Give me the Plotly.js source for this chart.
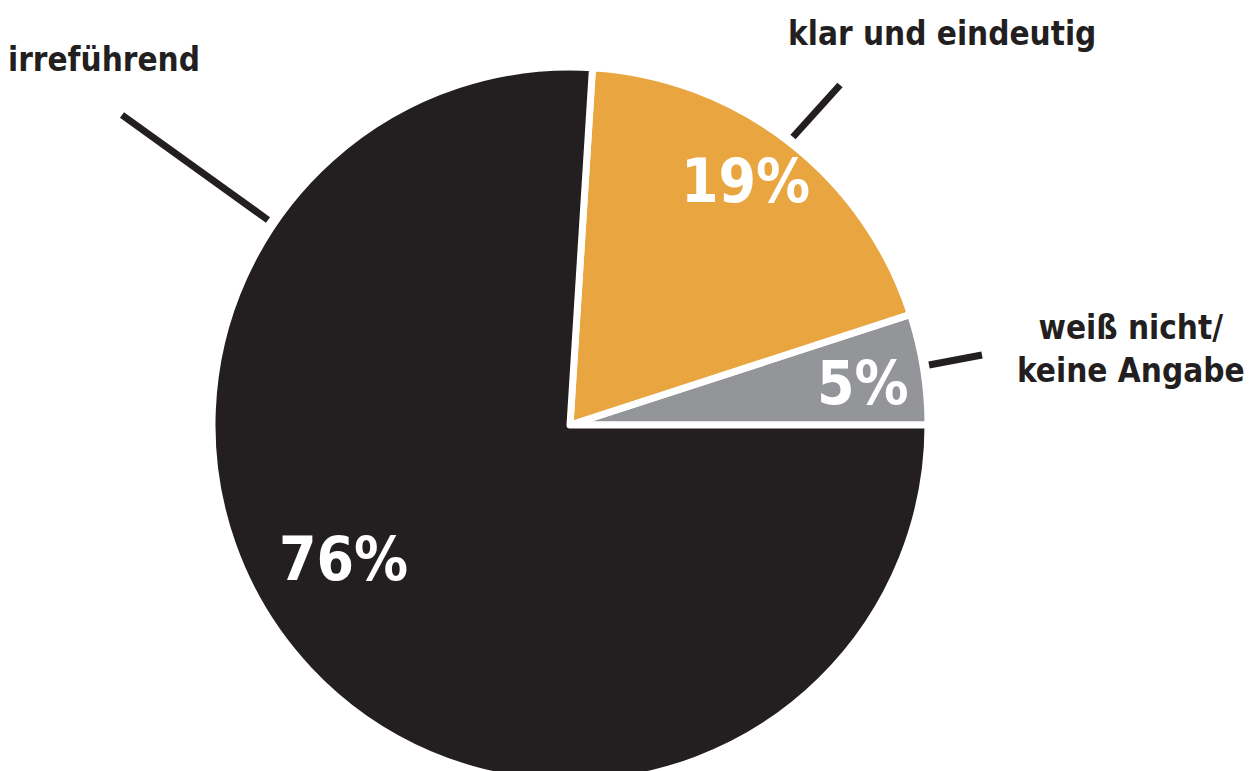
<!DOCTYPE html>
<html><head><meta charset="utf-8">
<script src="https://cdn.plot.ly/plotly-3.0.1.min.js"></script>
<style>html,body{margin:0;padding:0;overflow:hidden;background:#fff}#chart{width:1256px;height:800px}</style>
</head><body><div id="chart"></div>
<script>
// Data
const categories = ['weiß nicht/<br>keine Angabe', 'klar und eindeutig', 'irreführend'];
const shares = [5, 19, 76];
const colors = ['#939598', '#e8a540', '#231f20'];

const W = 1256, H = 800;
const px = x => x / W;
const py = y => 1 - y / H;
const FONT = '"Liberation Sans Narrow", "DejaVu Sans Condensed", sans-serif';

// label placement (pixel positions, styling only)
const pctPos = [[863, 383], [745, 181], [343, 559]];
const catPos = [[1131, 349], [942, 33], [104, 60]];
const leaders = [[[929, 365], [982, 355]], [[793, 137], [840, 85]], [[122, 115], [268, 220]]];

const annotations = [];
shares.forEach((v, i) => {
  annotations.push({
    x: px(pctPos[i][0]), y: py(pctPos[i][1]), xref: 'paper', yref: 'paper',
    text: v + '%', showarrow: false, xanchor: 'center', yanchor: 'middle',
    font: {family: FONT, size: 60, color: '#ffffff', weight: 'bold'}
  });
  annotations.push({
    x: px(catPos[i][0]), y: py(catPos[i][1]), xref: 'paper', yref: 'paper',
    text: categories[i], showarrow: false, xanchor: 'center', yanchor: 'middle',
    font: {family: FONT, size: 33, color: '#231f20', weight: 'bold'}
  });
});
const shapes = leaders.map(l => ({
  type: 'line', xref: 'paper', yref: 'paper',
  x0: px(l[0][0]), y0: py(l[0][1]), x1: px(l[1][0]), y1: py(l[1][1]),
  line: {color: '#231f20', width: 7}
}));

Plotly.newPlot('chart', [{
  type: 'pie',
  labels: categories,
  values: shares,
  sort: false,
  direction: 'counterclockwise',
  rotation: 72,
  textinfo: 'none',
  hoverinfo: 'label+percent',
  marker: {colors: colors, line: {color: '#ffffff', width: 7}},
  domain: {x: [px(212), px(928)], y: [py(783), py(67)]},
  showlegend: false
}], {
  width: W, height: H,
  margin: {l: 0, r: 0, t: 0, b: 0},
  paper_bgcolor: '#ffffff',
  annotations: annotations,
  shapes: shapes
}, {displayModeBar: false, staticPlot: true});
</script></body></html>
